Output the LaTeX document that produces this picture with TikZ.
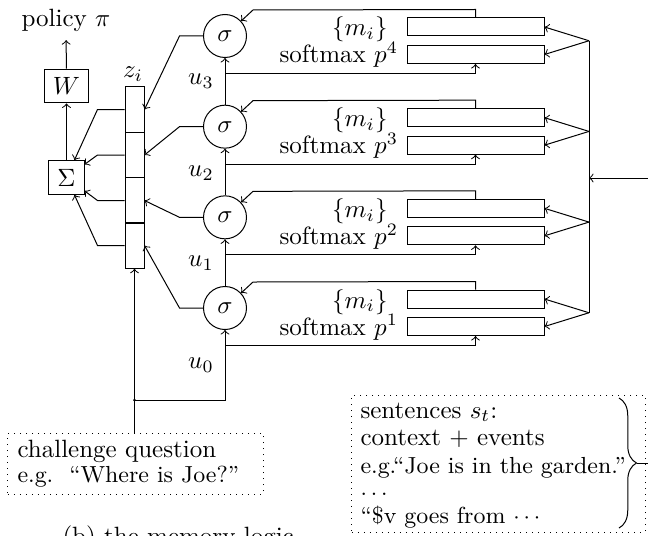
\documentclass[tikz,border=0pt]{standalone}
\usepackage{fontspec}
\usetikzlibrary{decorations.pathreplacing,calc}

\tikzset{
  opbox/.style={draw, inner sep=3.33pt},
  sig/.style={draw, circle, minimum size=17.2pt, inner sep=0pt},
  zcell/.style={draw, minimum width=7.6pt, minimum height=18.2pt, inner sep=0pt},
  membox/.style={draw, minimum width=54.8pt, minimum height=7.2pt, inner sep=0pt},
  lbl/.style={inner sep=0pt, anchor=base east},
  txt/.style={inner sep=0pt, anchor=base west},
  smalltxt/.style={txt, font=\fontsize{9.3pt}{11pt}\selectfont},
  flow/.style={->},
  frame/.style={draw, dotted},
}

\begin{document}
\begin{tikzpicture}[x=0.4pt, y=-0.4pt]
\useasboundingbox (0,0) rectangle (648,535);
\clip (0,0) rectangle (648,535);

% readout: sum -> W -> policy
\node (pol) at (66,20) {policy $\pi$};
\node[opbox, minimum width=17.2pt, minimum height=12.8pt] (W) at (66.5,86) {$W$};
\node[opbox, minimum width=14pt, minimum height=12.4pt] (S) at (66.5,177.5) {$\Sigma$};
\draw[flow] (W) -- (pol);
\draw[flow] (S) -- (W);

% the z_i column
\foreach \k/\y in {4/109.5, 3/155, 2/200.5, 1/245.5}
  \node[zcell] (z\k) at (134.5,\y) {};
\node (zl) at (133,74) {$z_i$};

% one memory hop per level
\foreach \k in {1,...,4} {
  \pgfmathsetmacro{\ys}{308-90.67*(\k-1)}
  \node[sig] (s\k) at (225,\ys) {$\sigma$};
  \node[membox] (m\k) at (475.5,\ys-9) {};
  \node[membox] (p\k) at (475.5,\ys+18.5) {};
  \node[lbl] (ml\k) at (388,\ys) {$\{m_i\}$};
  \node[lbl] (pl\k) at (398.5,\ys+27) {softmax $p^{\k}$};
  \coordinate (u\k) at (225,\ys+37.5);
  \coordinate (b\k) at (589,\ys+4.75);
  \draw[flow] (u\k) -| (p\k.south);
  \draw[flow] (m\k.north) -- ++(0,-8) -- (253,\ys-26) -- (s\k);
  \draw[flow] (b\k) -- (m\k.east);
  \draw[flow] (b\k) -- (p\k.east);
  \draw[flow] (s\k.west) -- ++(-23.5,0) -- (z\k.east);
  \draw[flow] (z\k.west) -- ++(-27,0) -- (S);
}

% controller state chain
\draw[flow] (s1) -- (s2);
\draw[flow] (s2) -- (s3);
\draw[flow] (s3) -- (s4);
\node (uL0) at (201,365) {$u_0$};
\node (uL1) at (201,263) {$u_1$};
\node (uL2) at (201,173) {$u_2$};
\node (uL3) at (201,81) {$u_3$};

% input bus on the right
\draw (b4) -- (b1);
\coordinate (in) at (589,178);

% challenge question
\node[frame, minimum width=102pt, minimum height=24.4pt] (qbox) at (135.5,463.5) {};
\node[txt] (q1) at (17,457) {challenge question};
\node[smalltxt] (q2) at (17,482) {e.g.\ \ ``Where is Joe?''};
\coordinate (j) at (134.5,400);
\draw[flow] (qbox.north -| z1.south) -- (z1.south);
\fill (j) circle (0.6pt);
\draw[flow] (j) -| (s1.south);

% sentences
\node[frame, minimum width=117.2pt, minimum height=54.8pt] (sbox) at (498.5,463.5) {};
\node[txt] (t1) at (360,418) {sentences $s_t$:};
\node[txt] (t2) at (360,445) {context $+$ events};
\node[smalltxt] (t3) at (360,473) {e.g.``Joe is in the garden.''};
\node[smalltxt] (t4) at (360,495) {$\ldots$};
\node[smalltxt] (t5) at (360,523) {``\$v goes from $\cdots$};
\draw[decorate, decoration={brace, amplitude=7pt}] (619,398) -- (619,528);
\coordinate (bt) at (637,463);
\draw[flow] (bt) -- (665,463) |- (in);

% caption
\node[txt] (cap) at (62,544) {(b) the memory logic};
\end{tikzpicture}
\end{document}
